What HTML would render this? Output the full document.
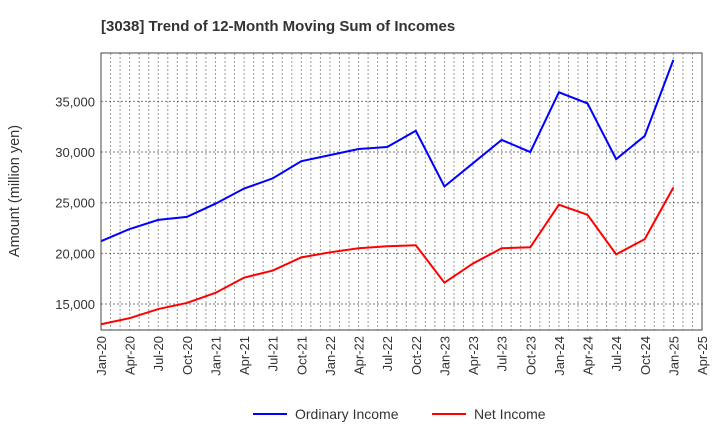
<!DOCTYPE html>
<html><head><meta charset="utf-8"><style>
body{margin:0;background:#fff;font-family:"Liberation Sans",sans-serif}
</style></head><body>
<svg id="c" width="720" height="440" xmlns="http://www.w3.org/2000/svg">
<text x="101" y="31" font-size="15" font-weight="bold" fill="#333">[3038]  Trend of 12-Month Moving Sum of Incomes</text>
<g id="grid"></g><g id="lines"></g><g id="axes"></g>
<text transform="translate(19,191) rotate(-90)" font-size="14.5" fill="#333" text-anchor="middle">Amount (million yen)</text>
<g>
<line x1="253" y1="414" x2="287" y2="414" stroke="#0000ff" stroke-width="2"/>
<text x="295" y="419" font-size="14" fill="#333">Ordinary Income</text>
<line x1="432" y1="414" x2="466" y2="414" stroke="#ff0000" stroke-width="2"/>
<text x="474" y="419" font-size="14" fill="#333">Net Income</text>
</g>
</svg>
<script>
const xLabels=["Jan-20","Apr-20","Jul-20","Oct-20","Jan-21","Apr-21","Jul-21","Oct-21","Jan-22","Apr-22","Jul-22","Oct-22","Jan-23","Apr-23","Jul-23","Oct-23","Jan-24","Apr-24","Jul-24","Oct-24","Jan-25","Apr-25"];
const yTicks=[15000,20000,25000,30000,35000];
const ordinaryIncome=[21200,22400,23300,23600,24900,26400,27400,29100,29700,30300,30500,32100,26600,28900,31200,30000,35900,34800,29300,31600,39100];
const netIncome=[13000,13600,14500,15100,16100,17600,18300,19600,20100,20500,20700,20800,17100,19000,20500,20600,24800,23800,19900,21400,26500];
const L=101,R=702,T=53,B=330,yMin=12430,yMax=39780;
const NS="http://www.w3.org/2000/svg";
const xq=i=>L+i*(R-L)/(xLabels.length-1);
const y=v=>B-(v-yMin)/(yMax-yMin)*(B-T);
function mk(t,a,p){const e=document.createElementNS(NS,t);for(const k in a)e.setAttribute(k,a[k]);p.appendChild(e);return e;}
const grid=document.getElementById('grid'),axes=document.getElementById('axes'),lines=document.getElementById('lines');
const months=(xLabels.length-1)*3;
for(let m=1;m<months;m++){const xx=L+m*(R-L)/months;
const g=mk('line',{x1:xx,x2:xx,y1:T,y2:B,stroke:'#999','stroke-dasharray':'2,2','stroke-width':1},grid);

}
yTicks.forEach(v=>{const g=mk('line',{x1:L,x2:R,y1:y(v),y2:y(v),stroke:'#777','stroke-dasharray':'2,2','stroke-width':1},grid);


const t=mk('text',{x:L-6,y:y(v)+5,'font-size':13,fill:'#333','text-anchor':'end'},axes);t.textContent=v.toLocaleString('en-US');

});
xLabels.forEach((s,i)=>{const t=mk('text',{transform:`translate(${xq(i)+5},${B+6}) rotate(-90)`,'font-size':13,fill:'#333','text-anchor':'end'},axes);t.textContent=s;

});
const fr=mk('rect',{x:L,y:T,width:R-L,height:B-T,fill:'none',stroke:'#444','stroke-width':1},axes);


function series(d,c,n){const p=mk('polyline',{points:d.map((v,i)=>xq(i)+','+y(v)).join(' '),fill:'none',stroke:c,'stroke-width':2},lines);

}
series(ordinaryIncome,'#0000ff','ordinary-income-line');
series(netIncome,'#ff0000','net-income-line');
</script>
</body></html>
